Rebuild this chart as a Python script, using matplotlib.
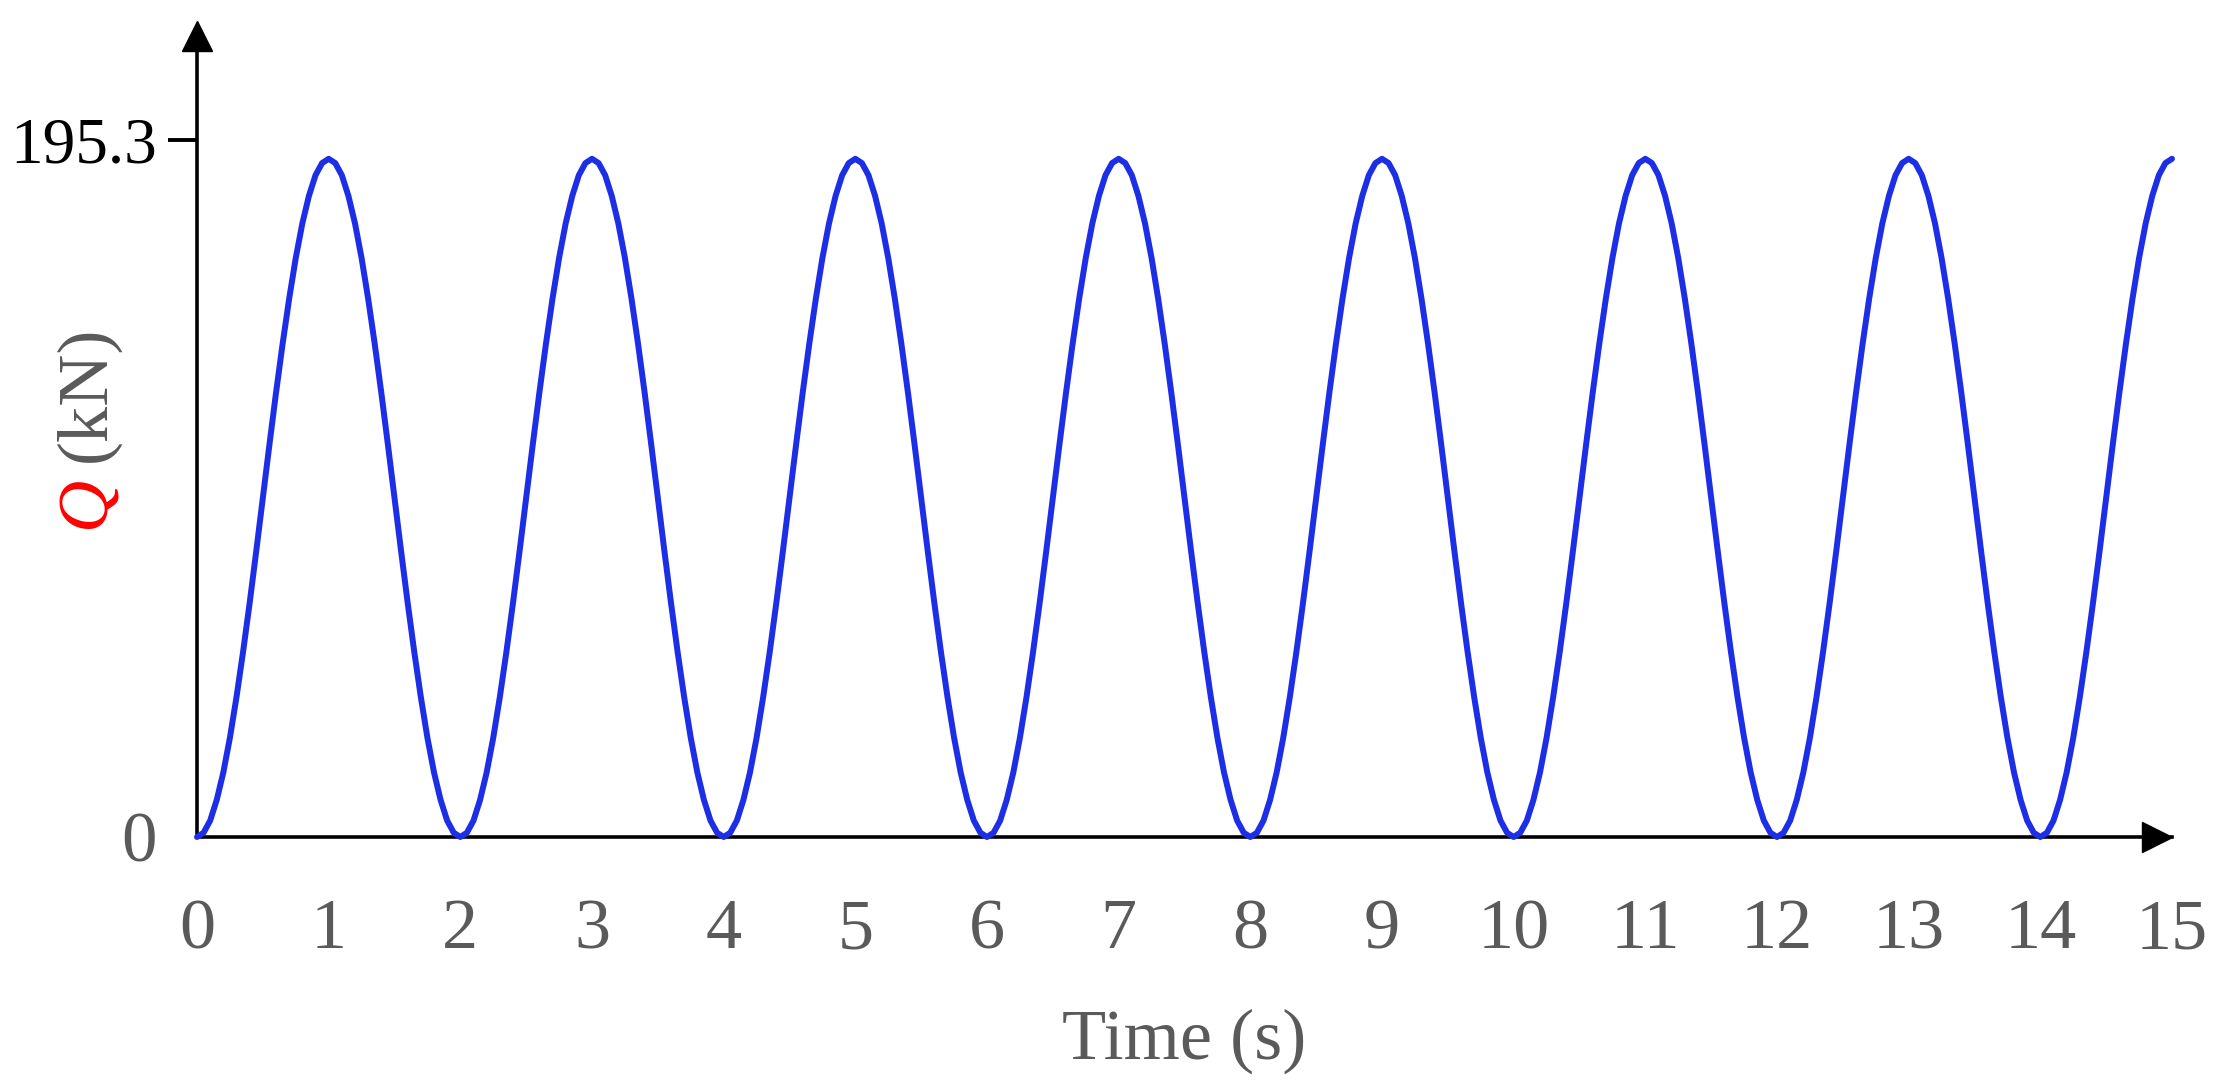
import numpy as np
import matplotlib
matplotlib.use('Agg')
import matplotlib.pyplot as plt
from matplotlib.transforms import offset_copy

# load values Q (kN), one sample every 0.05 s
time_s = np.round(np.arange(301) * 0.05, 2)
load_kN = [
    0.0, 1.2, 4.6, 10.4, 18.1, 27.8, 39.2, 51.9, 65.6, 80.1, 95.0, 109.9, 124.4, 138.1, 150.8, 162.2, 171.9, 179.6, 185.4, 188.8,
    190.0, 188.8, 185.4, 179.6, 171.9, 162.2, 150.8, 138.1, 124.4, 109.9, 95.0, 80.1, 65.6, 51.9, 39.2, 27.8, 18.1, 10.4, 4.6, 1.2,
    0.0, 1.2, 4.6, 10.4, 18.1, 27.8, 39.2, 51.9, 65.6, 80.1, 95.0, 109.9, 124.4, 138.1, 150.8, 162.2, 171.9, 179.6, 185.4, 188.8,
    190.0, 188.8, 185.4, 179.6, 171.9, 162.2, 150.8, 138.1, 124.4, 109.9, 95.0, 80.1, 65.6, 51.9, 39.2, 27.8, 18.1, 10.4, 4.6, 1.2,
    0.0, 1.2, 4.6, 10.4, 18.1, 27.8, 39.2, 51.9, 65.6, 80.1, 95.0, 109.9, 124.4, 138.1, 150.8, 162.2, 171.9, 179.6, 185.4, 188.8,
    190.0, 188.8, 185.4, 179.6, 171.9, 162.2, 150.8, 138.1, 124.4, 109.9, 95.0, 80.1, 65.6, 51.9, 39.2, 27.8, 18.1, 10.4, 4.6, 1.2,
    0.0, 1.2, 4.6, 10.4, 18.1, 27.8, 39.2, 51.9, 65.6, 80.1, 95.0, 109.9, 124.4, 138.1, 150.8, 162.2, 171.9, 179.6, 185.4, 188.8,
    190.0, 188.8, 185.4, 179.6, 171.9, 162.2, 150.8, 138.1, 124.4, 109.9, 95.0, 80.1, 65.6, 51.9, 39.2, 27.8, 18.1, 10.4, 4.6, 1.2,
    0.0, 1.2, 4.6, 10.4, 18.1, 27.8, 39.2, 51.9, 65.6, 80.1, 95.0, 109.9, 124.4, 138.1, 150.8, 162.2, 171.9, 179.6, 185.4, 188.8,
    190.0, 188.8, 185.4, 179.6, 171.9, 162.2, 150.8, 138.1, 124.4, 109.9, 95.0, 80.1, 65.6, 51.9, 39.2, 27.8, 18.1, 10.4, 4.6, 1.2,
    0.0, 1.2, 4.6, 10.4, 18.1, 27.8, 39.2, 51.9, 65.6, 80.1, 95.0, 109.9, 124.4, 138.1, 150.8, 162.2, 171.9, 179.6, 185.4, 188.8,
    190.0, 188.8, 185.4, 179.6, 171.9, 162.2, 150.8, 138.1, 124.4, 109.9, 95.0, 80.1, 65.6, 51.9, 39.2, 27.8, 18.1, 10.4, 4.6, 1.2,
    0.0, 1.2, 4.6, 10.4, 18.1, 27.8, 39.2, 51.9, 65.6, 80.1, 95.0, 109.9, 124.4, 138.1, 150.8, 162.2, 171.9, 179.6, 185.4, 188.8,
    190.0, 188.8, 185.4, 179.6, 171.9, 162.2, 150.8, 138.1, 124.4, 109.9, 95.0, 80.1, 65.6, 51.9, 39.2, 27.8, 18.1, 10.4, 4.6, 1.2,
    0.0, 1.2, 4.6, 10.4, 18.1, 27.8, 39.2, 51.9, 65.6, 80.1, 95.0, 109.9, 124.4, 138.1, 150.8, 162.2, 171.9, 179.6, 185.4, 188.8,
    190.0,
]
x_ticks = list(range(16))
y_ticks = [0, 195.3]
y_tick_labels = ['0', '195.3']

plt.rcParams['font.family'] = ['Liberation Serif', 'DejaVu Serif']
gray = '#5a5a5a'

fig = plt.figure(figsize=(22.22, 10.8), dpi=100)
# axes placed so that x=0 sits on the y axis and the arrows end where they do in the reference
ax = fig.add_axes([197 / 2222, 1 - 837 / 1080, (2172 - 197) / 2222, (837 - 36) / 1080])

ax.plot(time_s, load_kN, color='#1c2ee6', lw=4.3, solid_capstyle='round', clip_on=False, zorder=3)

ax.set_xlim(0, 15)
ax.set_ylim(0, 224.4)

for side in ['top', 'right']:
    ax.spines[side].set_visible(False)
for side in ['left', 'bottom']:
    ax.spines[side].set_linewidth(2.6)
    ax.spines[side].set_color('black')

# arrow heads on the axes
ax.plot(0, 1, marker='^', color='black', markersize=22, clip_on=False,
        transform=ax.transAxes)
ax.plot(1, 0, marker='>', color='black', markersize=22, clip_on=False,
        transform=offset_copy(ax.transAxes, fig=fig, x=-15, units='dots'))

ax.set_xticks(x_ticks)
ax.set_xticklabels([str(t) for t in x_ticks], fontsize=52, color=gray)
ax.tick_params(axis='x', length=0, pad=44)

ax.set_yticks(y_ticks)
ax.set_yticklabels(y_tick_labels, fontsize=51)
ax.tick_params(axis='y', length=21, width=2.8, pad=8, color='black')
ax.yaxis.get_major_ticks()[0].tick1line.set_visible(False)
ax.get_yticklabels()[0].set_color(gray)
ax.get_yticklabels()[1].set_color('black')
ax.get_yticklabels()[1].set_fontsize(47)

ax.set_xlabel('Time (s)', fontsize=52, color=gray, labelpad=33)

# y label: red italic Q followed by gray (kN)
fig.text(87 / 2222, 1 - 477 / 1080, 'Q', rotation=90, fontsize=52, color='red',
         style='italic', ha='center', va='top')
fig.text(87 / 2222, 1 - 462 / 1080, '(kN)', rotation=90, fontsize=52, color=gray,
         ha='center', va='bottom')

plt.savefig('out.png', dpi=100)
